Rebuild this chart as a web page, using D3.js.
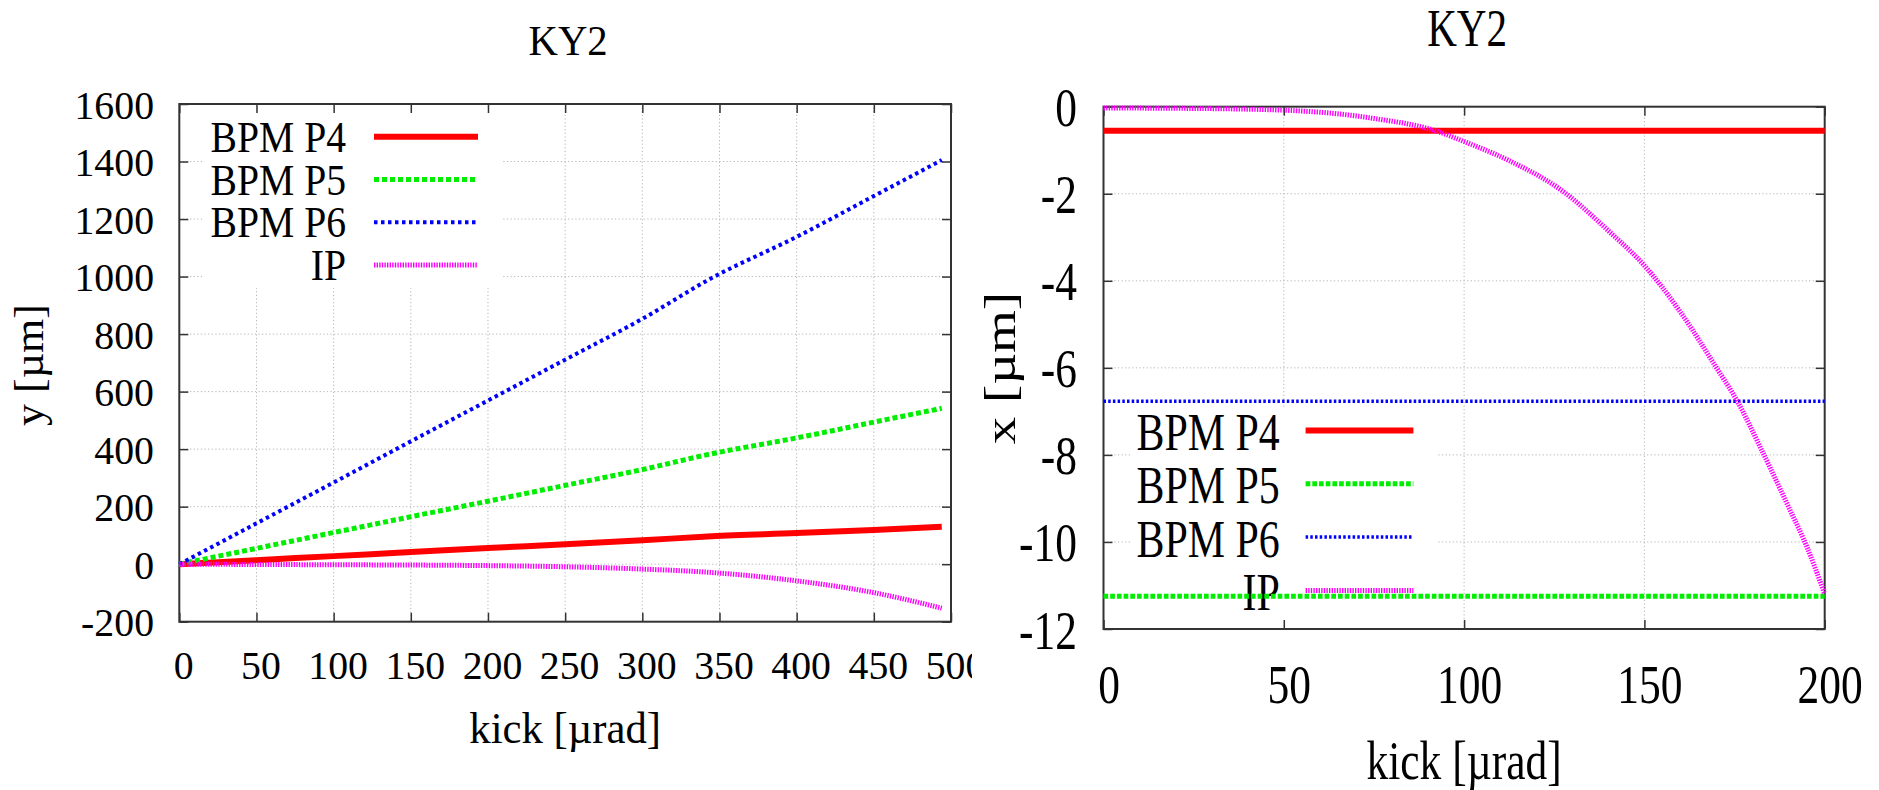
<!DOCTYPE html>
<html>
<head>
<meta charset="utf-8">
<script src="https://cdn.jsdelivr.net/npm/d3@7"></script>
<style>
  html, body { margin: 0; padding: 0; background: #fff; }
  svg { display: block; }
  text { font-family: "Liberation Serif", "DejaVu Serif", serif; fill: #000; }
</style>
</head>
<body>
<svg id="chart" width="1879" height="790"></svg>
<script>
// ---------------- DATA ----------------
const seriesNames = ["BPM P4", "BPM P5", "BPM P6", "IP"];

// Left panel: y [µm] vs kick [µrad]
const leftKick = [0, 50, 100, 150, 200, 250, 300, 345, 400, 450, 494];
const leftP4 = [0, 14, 28, 42, 56, 69, 83, 97, 108, 119, 130];
const leftP5 = [0, 55, 110, 165, 219, 274, 329, 384, 439, 494, 542];
const leftP6 = [0, 142, 284, 427, 569, 711, 853, 995, 1138, 1280, 1405];
const leftIP = [0, -1, -2, -3, -5, -9, -17, -29, -58, -99, -153];
const leftXTicks = [0, 50, 100, 150, 200, 250, 300, 350, 400, 450, 500];
const leftYTicks = [-200, 0, 200, 400, 600, 800, 1000, 1200, 1400, 1600];

// Right panel: x [µm] vs kick [µrad]
const rightKick = [0, 200];
const rightP4 = [-0.55, -0.55];
const rightP5 = [-11.25, -11.25];
const rightP6 = [-6.77, -6.77];
const rightIPKick = [0, 25, 50, 75, 92, 100, 112, 128, 140, 150, 160, 170, 176, 182, 190, 195, 200];
const rightIP = [-0.03, -0.04, -0.08, -0.27, -0.55, -0.8, -1.22, -1.98, -2.85, -3.65, -4.72, -6.0, -6.8, -7.8, -9.2, -10.1, -11.2];
const rightXTicks = [0, 50, 100, 150, 200];
const rightYTicks = [0, -2, -4, -6, -8, -10, -12];

const titleText = "KY2";
const xLabelText = "kick [\u00b5rad]";
const yLabelLeft = "y [\u00b5m]";
const yLabelRight = "x [\u00b5m]";

// ---------------- STYLES ----------------
const styles = [
  { color: "#ff0000", width: 6, dash: null },
  { color: "#00ee00", width: 5, dash: "5,3" },
  { color: "#0000ff", width: 4, dash: "3.5,3.5" },
  { color: "#ff00ff", width: 5, dash: "1.4,1.2" }
];
const stylesRight = [
  { color: "#ff0000", width: 6, dash: null },
  { color: "#00ee00", width: 5, dash: "4.7,2" },
  { color: "#0000ff", width: 3.5, dash: "2.5,2.2" },
  { color: "#ff00ff", width: 5, dash: "1.4,1.2" }
];

const svg = d3.select("#chart");
const fmt = d => String(d); // hyphen-minus like the original

function condense(sel, sx) {
  sel.each(function () {
    const len = this.getComputedTextLength();
    d3.select(this).attr("textLength", len * sx).attr("lengthAdjust", "spacingAndGlyphs");
  });
}

function panel(cfg) {
  const g = svg.append("g");
  if (cfg.clipRight) {
    svg.append("defs").append("clipPath").attr("id", cfg.id + "clip")
      .append("rect").attr("x", 0).attr("y", 0).attr("width", cfg.clipRight).attr("height", 790);
    g.attr("clip-path", `url(#${cfg.id}clip)`);
  }
  const x = d3.scaleLinear().domain(cfg.xDomain).range([cfg.x0, cfg.x1]);
  const y = d3.scaleLinear().domain(cfg.yDomain).range([cfg.yBot, cfg.yTop]);

  // grid
  const grid = g.append("g").attr("stroke", "#b4b4b4").attr("stroke-width", 1)
    .attr("stroke-dasharray", "1.2,2.4").attr("fill", "none");
  cfg.xTicks.forEach(t => {
    if (t === cfg.xDomain[0] || t === cfg.xDomain[1]) return;
    grid.append("line").attr("x1", x(t)).attr("x2", x(t)).attr("y1", cfg.yTop).attr("y2", cfg.yBot);
  });
  cfg.yTicks.forEach(t => {
    if (t === cfg.yDomain[0] || t === cfg.yDomain[1]) return;
    grid.append("line").attr("y1", y(t)).attr("y2", y(t)).attr("x1", cfg.x0).attr("x2", cfg.x1);
  });

  // legend white box
  g.append("rect").attr("x", cfg.legBox[0]).attr("y", cfg.legBox[1])
    .attr("width", cfg.legBox[2]).attr("height", cfg.legBox[3]).attr("fill", "#fff");

  // axes via d3 axis (inward ticks)
  const tl = cfg.tickLen;
  const axB = g.append("g").attr("transform", `translate(0,${cfg.yBot})`)
    .call(d3.axisBottom(x).tickValues(cfg.xTicks).tickSize(-tl).tickFormat(fmt));
  const axT = g.append("g").attr("transform", `translate(0,${cfg.yTop})`)
    .call(d3.axisTop(x).tickValues(cfg.xTicks).tickSize(-tl).tickFormat(""));
  const axL = g.append("g").attr("transform", `translate(${cfg.x0},0)`)
    .call(d3.axisLeft(y).tickValues(cfg.yTicks).tickSize(-tl).tickFormat(fmt));
  const axR = g.append("g").attr("transform", `translate(${cfg.x1},0)`)
    .call(d3.axisRight(y).tickValues(cfg.yTicks).tickSize(-tl).tickFormat(""));
  [axB, axT, axL, axR].forEach(a => {
    a.select(".domain").remove();
    a.selectAll(".tick line").attr("stroke", "#333").attr("stroke-width", 1.5);
  });
  // frame
  g.append("rect").attr("x", cfg.x0).attr("y", cfg.yTop)
    .attr("width", cfg.x1 - cfg.x0).attr("height", cfg.yBot - cfg.yTop)
    .attr("fill", "none").attr("stroke", "#333").attr("stroke-width", 2);

  axB.selectAll(".tick text")
    .attr("font-size", cfg.tickFont).attr("fill", "#000")
    .attr("font-family", '"Liberation Serif", serif')
    .attr("y", cfg.xLabBase - cfg.yBot).attr("dy", null).attr("dx", cfg.xLabDx)
    .attr("text-anchor", "middle");
  axL.selectAll(".tick text")
    .attr("font-size", cfg.tickFont).attr("fill", "#000")
    .attr("font-family", '"Liberation Serif", serif')
    .attr("x", -(cfg.x0 - cfg.yLabEnd)).attr("dy", null).attr("y", cfg.yLabDy)
    .attr("text-anchor", "end");
  condense(axB.selectAll(".tick text"), cfg.sx);
  condense(axL.selectAll(".tick text"), cfg.sx);

  // titles
  const t = g.append("text").attr("x", (cfg.x0 + cfg.x1) / 2 + cfg.titleDx).attr("y", cfg.titleBase)
    .attr("text-anchor", "middle").attr("font-size", cfg.titleFont).text(titleText);
  condense(t, cfg.sx);
  const xl = g.append("text").attr("x", (cfg.x0 + cfg.x1) / 2).attr("y", cfg.xTitleBase)
    .attr("text-anchor", "middle").attr("font-size", cfg.labelFont).text(xLabelText);
  condense(xl, cfg.sx);
  // rotated label: the horizontal squeeze affects glyph thickness, not length
  g.append("text")
    .attr("transform", `translate(${cfg.yTitleX},${cfg.yTitleY}) rotate(-90) scale(1,${cfg.sx})`)
    .attr("text-anchor", "middle").attr("font-size", cfg.labelFont).text(cfg.yTitle);

  // legend
  const leg = g.append("g");
  cfg.names.forEach((n, i) => {
    const by = cfg.legBase0 + i * cfg.legStep;
    const tx = leg.append("text").attr("x", cfg.legTextEnd).attr("y", by)
      .attr("text-anchor", "end").attr("font-size", cfg.legFont).text(n);
    condense(tx, cfg.legSx);
    const st = cfg.styles[i];
    leg.append("line").attr("x1", cfg.legLine[0]).attr("x2", cfg.legLine[1])
      .attr("y1", by - cfg.legLineUp).attr("y2", by - cfg.legLineUp)
      .attr("stroke", st.color).attr("stroke-width", st.width)
      .attr("stroke-dasharray", st.dash);
  });

  // data lines
  const line = d3.line().x(d => x(d[0])).y(d => y(d[1])).curve(d3.curveMonotoneX);
  cfg.series.forEach((s, i) => {
    const st = cfg.styles[i];
    g.append("path").datum(s.xs.map((v, j) => [v, s.ys[j]]))
      .attr("d", line).attr("fill", "none")
      .attr("stroke", st.color).attr("stroke-width", st.width)
      .attr("stroke-dasharray", st.dash);
  });
}

panel({
  id: "left", clipRight: 972,
  xDomain: [0, 500], yDomain: [-200, 1600],
  x0: 179.3, x1: 951, yTop: 104, yBot: 621.7,
  xTicks: leftXTicks, yTicks: leftYTicks, tickLen: 9,
  tickFont: 41, sx: 0.97, xLabBase: 679, xLabDx: 4, yLabEnd: 154, yLabDy: 14,
  titleFont: 42, titleBase: 55, titleDx: 3,
  labelFont: 44, xTitleBase: 743, yTitle: yLabelLeft, yTitleX: 43, yTitleY: 365,
  names: seriesNames, legTextEnd: 346, legBase0: 151.7, legStep: 42.8, legFont: 44, legSx: 0.9,
  legLine: [374, 478], legLineUp: 15, legBox: [203, 108, 300, 180],
  styles: styles,
  series: [
    { xs: leftKick, ys: leftP4 },
    { xs: leftKick, ys: leftP5 },
    { xs: leftKick, ys: leftP6 },
    { xs: leftKick, ys: leftIP }
  ]
});

panel({
  id: "right", clipRight: null,
  xDomain: [0, 200], yDomain: [-12, 0],
  x0: 1103.5, x1: 1824.7, yTop: 106.7, yBot: 629,
  xTicks: rightXTicks, yTicks: rightYTicks, tickLen: 9,
  tickFont: 55, sx: 0.79, xLabBase: 703, xLabDx: 5, yLabEnd: 1077, yLabDy: 19,
  titleFont: 52, titleBase: 46, titleDx: 3,
  labelFont: 55, xTitleBase: 779, yTitle: yLabelRight, yTitleX: 1015, yTitleY: 368,
  names: seriesNames, legTextEnd: 1279.7, legBase0: 450, legStep: 53.3, legFont: 53, legSx: 0.79,
  legLine: [1305.6, 1413.4], legLineUp: 19.5, legBox: [1130, 408, 308, 214],
  styles: stylesRight,
  series: [
    { xs: rightKick, ys: rightP4 },
    { xs: rightKick, ys: rightP5 },
    { xs: rightKick, ys: rightP6 },
    { xs: rightIPKick, ys: rightIP }
  ]
});
</script>
</body>
</html>
